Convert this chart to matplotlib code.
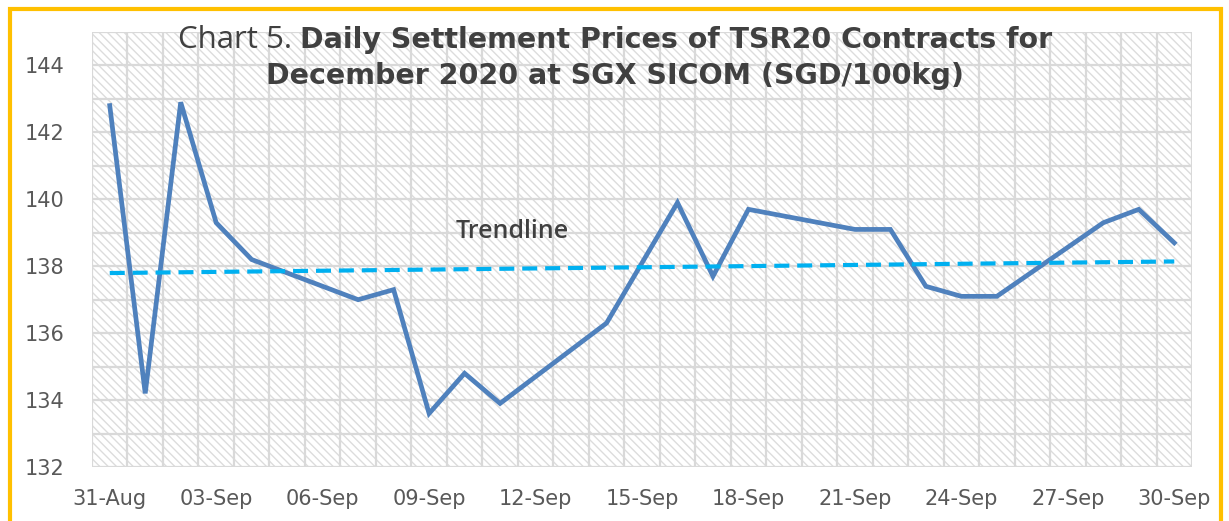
import matplotlib
matplotlib.use("Agg")
from matplotlib import pyplot as plt
from matplotlib.patches import Rectangle
import matplotlib.dates as mdates
import numpy as np
import pandas as pd

# settlement prices, SGD/100kg (trading days only)
dates = ['2020-08-31', '2020-09-01', '2020-09-02', '2020-09-03', '2020-09-04',
         '2020-09-07', '2020-09-08', '2020-09-09', '2020-09-10', '2020-09-11',
         '2020-09-14', '2020-09-15', '2020-09-16', '2020-09-17', '2020-09-18',
         '2020-09-21', '2020-09-22', '2020-09-23', '2020-09-24', '2020-09-25',
         '2020-09-28', '2020-09-29', '2020-09-30']
prices = [142.8, 134.2, 142.9, 139.3, 138.2,
          137.0, 137.3, 133.6, 134.8, 133.9,
          136.3, 138.1, 139.9, 137.7, 139.7,
          139.1, 139.1, 137.4, 137.1, 137.1,
          139.3, 139.7, 138.7]
tick_dates = pd.date_range('2020-08-31', '2020-09-30', freq='3D')
y_ticks = [132, 134, 136, 138, 140, 142, 144]

x = pd.to_datetime(dates)
xnum = mdates.date2num(x)
y = np.array(prices)

# linear trendline like excel
k, b = np.polyfit(xnum, y, 1)
trend = k * xnum + b

plt.rcParams['hatch.linewidth'] = 1.0

fig = plt.figure(figsize=(12.29, 5.21), dpi=100)
ax = fig.add_axes([92 / 1229, 1 - 467 / 521, 1100 / 1229, 435 / 521])

# patterned plot area
bg = Rectangle((0, 0), 1, 1, transform=ax.transAxes, facecolor='white',
               edgecolor='#dcdcdc', hatch='\\\\\\\\', linewidth=0, zorder=0)
ax.add_patch(bg)
ax.patch.set_visible(False)

ax.plot(x, y, color='#4F81BD', lw=3.4, solid_joinstyle='miter', zorder=3)
ax.plot(x, trend, color='#00B0F0', lw=3, dashes=(3.6, 1.9), zorder=4)

ax.text(mdates.date2num(pd.Timestamp('2020-09-11 08:00')), 139.05, 'Trendline',
        family='Open Sans', fontsize=18, fontweight='semibold', color='#404040',
        ha='center', va='center', zorder=5)

ax.set_xlim(mdates.date2num(pd.Timestamp('2020-08-30 12:00')),
            mdates.date2num(pd.Timestamp('2020-09-30 12:00')))
ax.set_ylim(132, 145)
ax.set_xticks(tick_dates)
ax.xaxis.set_major_formatter(mdates.DateFormatter('%d-%b'))
ax.set_xticks(pd.date_range('2020-08-30 12:00', '2020-09-30 12:00', freq='D'), minor=True)
ax.set_yticks(y_ticks)
ax.set_yticks(np.arange(132, 146, 1), minor=True)
ax.grid(which='minor', color='#d9d9d9', lw=1.6, zorder=1)
ax.grid(which='major', axis='y', color='#d9d9d9', lw=1.6, zorder=1)
ax.grid(which='major', axis='x', visible=False)
ax.set_axisbelow(True)
ax.tick_params(which='both', length=0)
ax.tick_params(axis='y', labelsize=15, labelcolor='#595959', pad=20)
ax.tick_params(axis='x', labelsize=15, labelcolor='#595959', pad=16)
for s in ax.spines.values():
    s.set_visible(False)

# title: plain part + bold part on first line
fig.canvas.draw()
r = fig.canvas.get_renderer()
t1 = fig.text(0, 1 - 40 / 521, 'Chart 5. ', family='Open Sans', fontsize=22.5,
              color='#404040', va='center')
t2 = fig.text(0, 1 - 40 / 521, 'Daily Settlement Prices of TSR20 Contracts for',
              fontsize=20.5, fontweight='bold', color='#404040', va='center')
w1 = t1.get_window_extent(r).width
w2 = t2.get_window_extent(r).width
x0 = 615 - (w1 + w2) / 2
t1.set_x(x0 / 1229)
t2.set_x((x0 + w1) / 1229)
fig.text(615 / 1229, 1 - 76 / 521, 'December 2020 at SGX SICOM (SGD/100kg)',
         fontsize=20.5, fontweight='bold', color='#404040', ha='center', va='center')

# gold frame
fig.patches.append(Rectangle((10 / 1229, -0.05), 1211 / 1229, 1.05 - 9 / 521,
                             transform=fig.transFigure, fill=False,
                             edgecolor='#FFC000', lw=3))

fig.savefig('out.png', dpi=100)
